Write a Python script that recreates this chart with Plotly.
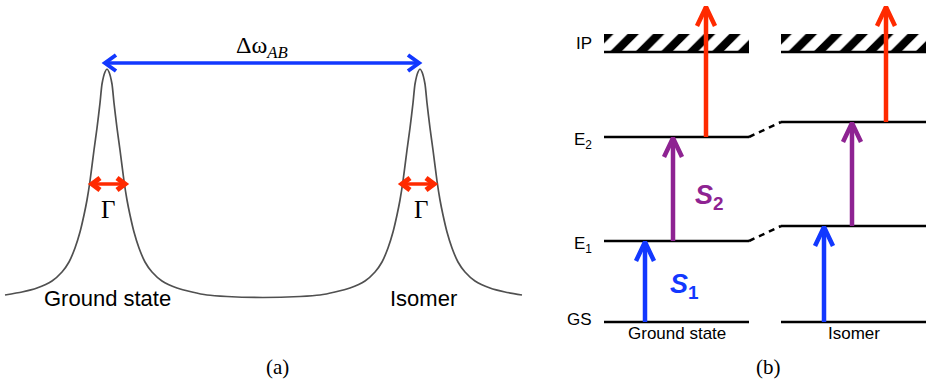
import plotly.graph_objects as go

# ---------------- Panel (a): spectrum ----------------
freq = [5, 22, 37, 52, 62, 69, 75, 80, 84, 87, 90, 94, 97, 100, 102, 105, 107,
        109, 112, 114, 117, 120, 124, 127, 130, 134, 139, 145, 152, 162, 177, 192,
        207, 227, 263, 300, 320, 335, 350, 365, 375, 382, 388, 393, 397, 400, 403,
        407, 410, 413, 415, 418, 420, 422, 425, 427, 430, 433, 437, 440, 443, 447,
        452, 458, 465, 475, 490, 505, 522]
intensity = [3, 6, 10, 17, 26, 36, 50, 66, 83, 98, 117, 148, 170, 195, 214, 226, 229,
             226, 214, 195, 170, 148, 117, 98, 83, 66, 50, 36, 26, 17, 10, 6,
             3, 1.5, 0.5, 1.5, 3, 6, 10, 17, 26, 36, 50, 66, 83, 98, 117,
             148, 170, 195, 214, 226, 229, 226, 214, 195, 170, 148, 117, 98, 83, 66,
             50, 36, 26, 17, 10, 6, 3]
peak_centers = [107, 420]
peak_labels = ["Ground state", "Isomer"]
label_centers = [107, 423]
fwhm_left = [92, 402]
fwhm_right = [125, 434]
half_max = 114
gamma_level = 89
delta_span = [105, 419]
delta_level = 235

# ---------------- Panel (b): energy levels ----------------
states = ["Ground state", "Isomer"]
level_names = ["GS", "E<sub>1</sub>", "E<sub>2</sub>", "IP"]
energies_ground = [0, 81, 185, 270]
energies_isomer = [0, 96, 200, 270]
column_left = [604, 781]
column_right = [749, 926]
arrow_x_ground = [645, 673, 706]
arrow_x_isomer = [824, 852, 886]
ion_top = 316
hatch_height = 18

BLUE = "#1238ff"
PURPLE = "#8e2392"
RED = "#ff2a00"
SANS = "Liberation Sans, Arial, sans-serif"
SERIF = "Liberation Serif, Times New Roman, serif"

fig = go.Figure()

# spectrum curve
fig.add_trace(go.Scatter(x=freq, y=intensity, mode="lines",
                         line=dict(color="#505050", width=1.7, shape="spline", smoothing=0.6),
                         xaxis="x", yaxis="y", hoverinfo="skip"))


def arrow_line(x0, y0, x1, y1, color, width, head_len, head_half, ax="x", ay="y",
               both=False, head_width=None):
    """Straight arrow with chevron heads (head geometry in px units)."""
    traces = []
    vertical = x0 == x1
    traces.append(go.Scatter(x=[x0, x1], y=[y0, y1], mode="lines",
                             line=dict(color=color, width=width),
                             xaxis=ax, yaxis=ay, hoverinfo="skip"))
    ends = [(x1, y1, x0, y0)]
    if both:
        ends.append((x0, y0, x1, y1))
    for tx, ty, sx, sy in ends:
        if vertical:
            d = 1 if ty > sy else -1
            hx = [tx - head_half, tx, tx + head_half]
            hy = [ty - d * head_len, ty, ty - d * head_len]
        else:
            d = 1 if tx > sx else -1
            hx = [tx - d * head_len, tx, tx - d * head_len]
            hy = [ty - head_half, ty, ty + head_half]
        traces.append(go.Scatter(x=hx, y=hy, mode="lines",
                                 line=dict(color=color, width=head_width or width),
                                 xaxis=ax, yaxis=ay, hoverinfo="skip"))
    return traces


# Delta omega arrow
for t in arrow_line(delta_span[0], delta_level, delta_span[1], delta_level, BLUE, 3.5, 11, 8,
                    both=True, head_width=4):
    fig.add_trace(t)
# Gamma arrows
for l, r in zip(fwhm_left, fwhm_right):
    for t in arrow_line(l, half_max, r, half_max, RED, 3.5, 8, 6, both=True, head_width=5):
        fig.add_trace(t)

# hatched ionisation continuum
fig.add_trace(go.Bar(x=[(a + b) / 2 for a, b in zip(column_left, column_right)],
                     y=[hatch_height, hatch_height],
                     base=[energies_ground[3], energies_isomer[3]],
                     width=[b - a for a, b in zip(column_left, column_right)],
                     marker=dict(color="white", line=dict(width=0),
                                 pattern=dict(shape="/", fgcolor="black", bgcolor="white",
                                              size=18, solidity=0.45, fgopacity=1)),
                     xaxis="x2", yaxis="y2", hoverinfo="skip"))

# levels
for lv, energies in enumerate([energies_ground, energies_isomer]):
    for e in energies:
        fig.add_trace(go.Scatter(x=[column_left[lv], column_right[lv]], y=[e, e], mode="lines",
                                 line=dict(color="black", width=2.5),
                                 xaxis="x2", yaxis="y2", hoverinfo="skip"))
# dashed connectors
for i in (1, 2):
    fig.add_trace(go.Scatter(x=[column_right[0], column_left[1]],
                             y=[energies_ground[i], energies_isomer[i]], mode="lines",
                             line=dict(color="black", width=2.5, dash="6px,5px"),
                             xaxis="x2", yaxis="y2", hoverinfo="skip"))

# transitions
colors = [BLUE, PURPLE, RED]
for energies, xs in [(energies_ground, arrow_x_ground), (energies_isomer, arrow_x_isomer)]:
    starts = [energies[0], energies[1], energies[2]]
    ends = [energies[1], energies[2], ion_top]
    for x, s, e, c in zip(xs, starts, ends, colors):
        for t in arrow_line(x, s, x, e - 1, c, 4.5, 19, 9, ax="x2", ay="y2"):
            fig.add_trace(t)

ann = []
# panel a text
ann.append(dict(x=262, y=251, xref="x", yref="y", text="Δω<sub><i>AB</i></sub>",
                font=dict(family=SERIF, size=24, color="black"), showarrow=False))
for c in peak_centers:
    ann.append(dict(x=c + 1, y=gamma_level, xref="x", yref="y", text="Γ",
                    font=dict(family=SERIF, size=25, color="black"), showarrow=False))
for c, t in zip(label_centers, peak_labels):
    ann.append(dict(x=c, y=0, xref="x", yref="y", text=t,
                    font=dict(family=SANS, size=22, color="black"), showarrow=False))
ann.append(dict(x=277, y=-69, xref="x", yref="y", text="(a)",
                font=dict(family=SERIF, size=21, color="black"), showarrow=False))

# panel b text
for name, e in zip(level_names, energies_ground):
    dy = -4 if "sub" in name else 3
    ann.append(dict(x=594, y=e + dy + (6 if name == "IP" else 0), xref="x2", yref="y2", text=name,
                    xanchor="right", font=dict(family=SANS, size=17, color="black"),
                    showarrow=False))
for st, l, r in zip(states, column_left, column_right):
    ann.append(dict(x=(l + r) / 2, y=-11, xref="x2", yref="y2", text=st,
                    font=dict(family=SANS, size=17, color="black"), showarrow=False))
ann.append(dict(x=668, y=36, xref="x2", yref="y2", text="<b><i>S</i></b><sub><b>1</b></sub>",
                xanchor="left", font=dict(family=SANS, size=27, color=BLUE), showarrow=False))
ann.append(dict(x=693, y=125, xref="x2", yref="y2", text="<b><i>S</i></b><sub><b>2</b></sub>",
                xanchor="left", font=dict(family=SANS, size=27, color=PURPLE), showarrow=False))
ann.append(dict(x=768, y=-45, xref="x2", yref="y2", text="(b)",
                font=dict(family=SERIF, size=21, color="black"), showarrow=False))

ax_common = dict(visible=False, showgrid=False, zeroline=False, fixedrange=True)
fig.update_layout(
    width=929, height=381, margin=dict(l=0, r=0, t=0, b=0),
    paper_bgcolor="white", plot_bgcolor="white", showlegend=False,
    xaxis=dict(domain=[0, 530 / 929], range=[0, 530], **ax_common),
    yaxis=dict(domain=[0, 1], range=[-83, 298], **ax_common),
    xaxis2=dict(domain=[540 / 929, 1], range=[540, 929], anchor="y2", **ax_common),
    yaxis2=dict(domain=[0, 1], range=[-59, 322], anchor="x2", **ax_common),
    annotations=ann, bargap=0,
)

fig.write_html("out.html", config={"staticPlot": True},
               post_script="document.body.style.margin='0';document.body.style.overflow='hidden';")
